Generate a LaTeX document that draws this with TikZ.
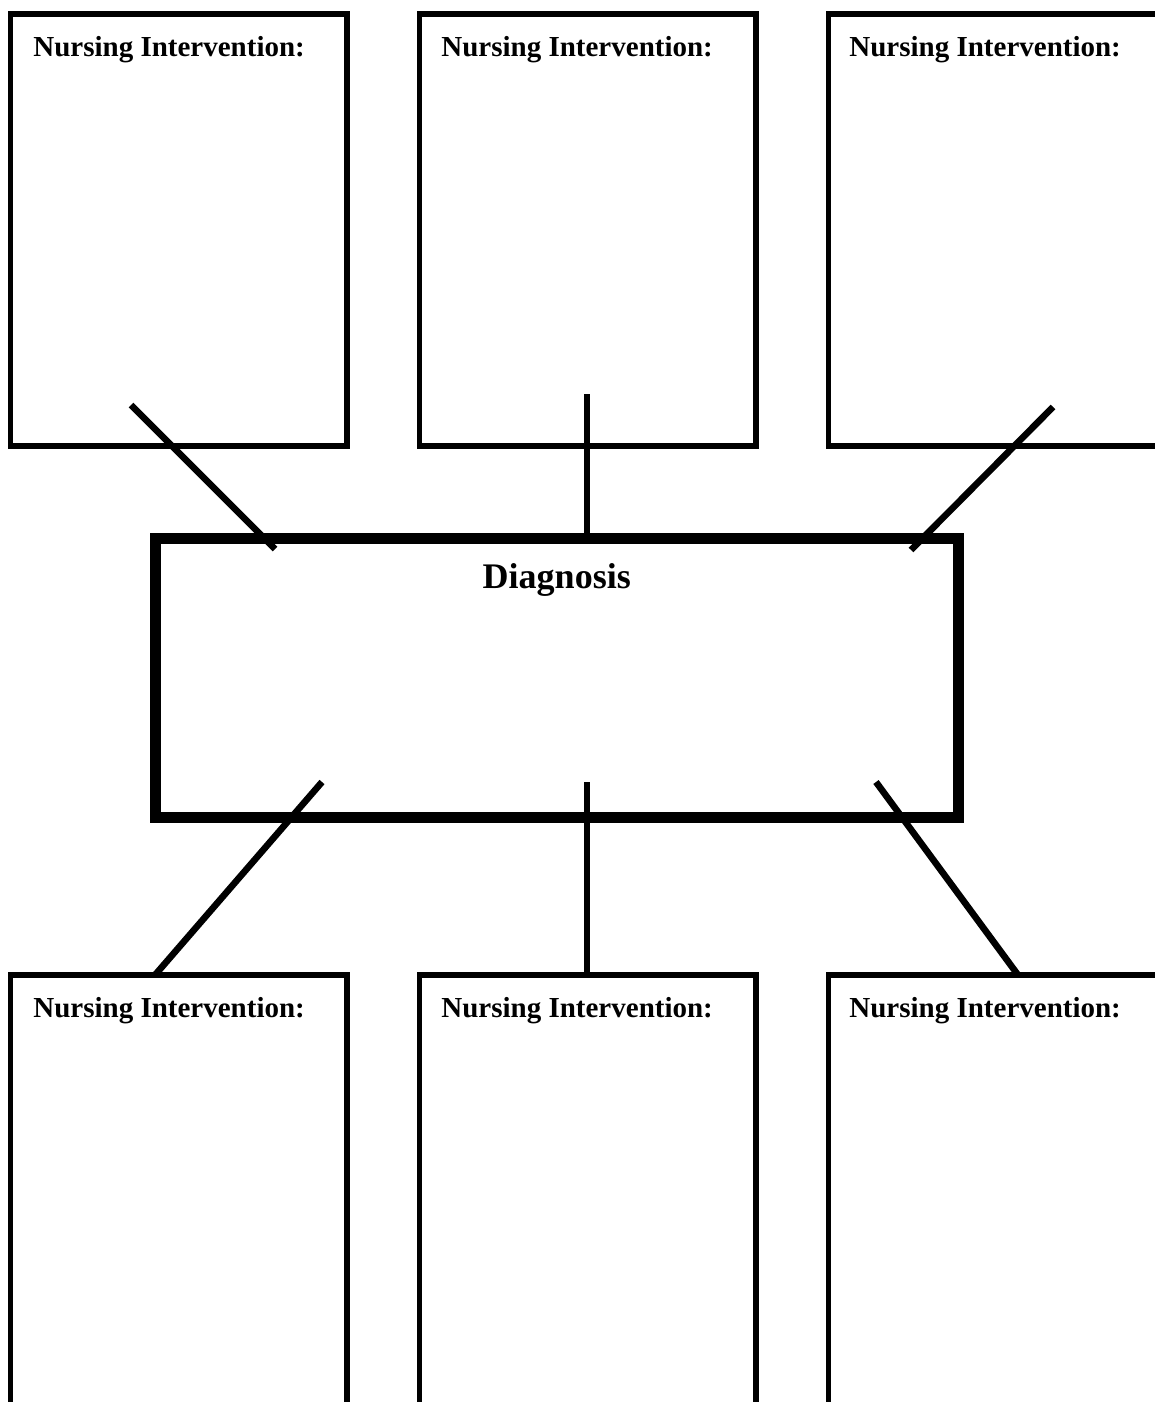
\documentclass[tikz,border=0pt]{standalone}
\usepackage{fontspec}
\setmainfont{Liberation Serif}
\begin{document}
\begin{tikzpicture}[x=0.5pt,y=-0.5pt,
  ibox/.style={draw=black, line width=2.75pt, rectangle, anchor=north west,
    inner sep=0pt, outer sep=0pt, minimum width=168.25pt},
  topbox/.style={ibox, minimum height=216pt},
  botbox/.style={ibox, minimum height=218.5pt},
  dbox/.style={draw=black, line width=5.5pt, rectangle, anchor=north west,
    inner sep=0pt, outer sep=0pt, minimum width=401.75pt, minimum height=139.75pt},
  ilabel/.style={anchor=base west, inner sep=0pt, font=\fontsize{14.5pt}{17pt}\selectfont\bfseries},
  dlabel/.style={anchor=base, inner sep=0pt, font=\fontsize{18pt}{21pt}\selectfont\bfseries},
  link/.style={draw=black, line width=3.3pt}]
\useasboundingbox (0,0) rectangle (1155,1402);
\clip (0,0) rectangle (1155,1402);
% top intervention boxes
\node[topbox] (t1) at (10.5,14) {};
\node[topbox] (t2) at (419.5,14) {};
\node[topbox] (t3) at (828.5,14) {};
\node[ilabel] (t1l) at (33,57) {Nursing Intervention:};
\node[ilabel] (t2l) at (441,57) {Nursing Intervention:};
\node[ilabel] (t3l) at (849,57) {Nursing Intervention:};
% bottom intervention boxes
\node[botbox] (b1) at (10.5,975) {};
\node[botbox] (b2) at (419.5,975) {};
\node[botbox] (b3) at (828.5,975) {};
\node[ilabel] (b1l) at (33,1017) {Nursing Intervention:};
\node[ilabel] (b2l) at (441,1017) {Nursing Intervention:};
\node[ilabel] (b3l) at (849,1017) {Nursing Intervention:};
% diagnosis box
\node[dbox] (d) at (155,538) {};
\node[dlabel] (dl) at (556.75,588) {Diagnosis};
% connector end points
\coordinate (t1a) at (131,405);  \coordinate (t1b) at (275,549);
\coordinate (t2a) at (587,394);  \coordinate (t2b) at (587,538);
\coordinate (t3a) at (1053,407); \coordinate (t3b) at (911,550);
\coordinate (b1a) at (322,782);  \coordinate (b1b) at (155,975);
\coordinate (b2a) at (587,782);  \coordinate (b2b) at (587,975);
\coordinate (b3a) at (876,782);  \coordinate (b3b) at (1018,975);
\draw[link] (t1a) -- (t1b);
\draw[link] (t2a) -- (t2b);
\draw[link] (t3a) -- (t3b);
\draw[link] (b1a) -- (b1b);
\draw[link] (b2a) -- (b2b);
\draw[link] (b3a) -- (b3b);
\end{tikzpicture}
\end{document}
